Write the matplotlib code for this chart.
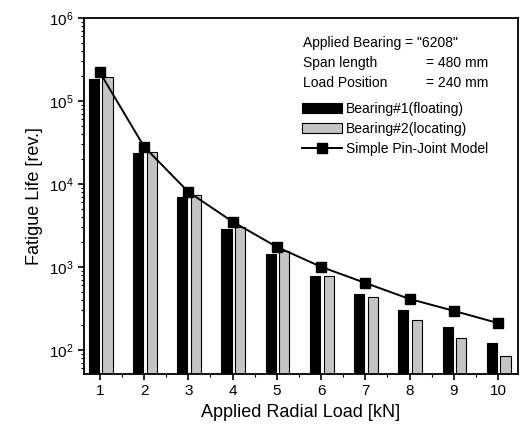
import matplotlib
matplotlib.use('Agg')
import numpy as np
from matplotlib import pyplot as plt
from matplotlib.ticker import LogLocator, MultipleLocator, NullFormatter

plt.rcParams['font.family'] = ['Liberation Sans', 'DejaVu Sans']

# data
loads = [1, 2, 3, 4, 5, 6, 7, 8, 9, 10]
bearing1_floating = [1.84e5, 2.36e4, 6.97e3, 2.87e3, 1.44e3, 780, 470, 300, 190, 121]
bearing2_locating = [1.95e5, 2.43e4, 7.4e3, 3.0e3, 1.55e3, 780, 435, 230, 140, 85]
pin_joint_model = [2.2e5, 2.8e4, 8.0e3, 3.5e3, 1.74e3, 1.0e3, 640, 410, 295, 210]

x = np.array(loads)
fig = plt.figure(figsize=(5.2, 4.37), dpi=100)
ax = fig.add_axes([0.1615, 0.144, 0.8345, 0.815])

bar_w = 0.23
b1 = ax.bar(x - 0.14, bearing1_floating, width=bar_w, color='black', edgecolor='black',
            linewidth=0.8, label='Bearing#1(floating)', zorder=2)
b2 = ax.bar(x + 0.17, bearing2_locating, width=bar_w, color='#c4c4c4', edgecolor='black',
            linewidth=0.8, label='Bearing#2(locating)', zorder=2)
ln, = ax.plot(x, pin_joint_model, color='black', linewidth=1.4, marker='s', markersize=7.5,
              label='Simple Pin-Joint Model', zorder=3)

ax.set_yscale('log')
ax.set_ylim(51, 1e6)
ax.set_xlim(0.64, 10.45)
ax.set_xticks(loads)
ax.xaxis.set_minor_locator(MultipleLocator(0.5))
ax.yaxis.set_major_locator(LogLocator(base=10, numticks=10))
ax.yaxis.set_minor_locator(LogLocator(base=10, subs=np.arange(2, 10), numticks=20))
ax.yaxis.set_minor_formatter(NullFormatter())
ax.tick_params(axis='both', which='major', direction='out', length=4, width=1.2, labelsize=11)
ax.tick_params(axis='both', which='minor', direction='out', length=2, width=0.8)
for s in ax.spines.values():
    s.set_linewidth(1.3)

ax.set_xlabel('Applied Radial Load [kN]', fontsize=13)
ax.set_ylabel('Fatigue Life [rev.]', fontsize=13)

# annotation block
ax.text(0.505, 0.930, 'Applied Bearing = "6208"', transform=ax.transAxes, fontsize=10, va='center')
ax.text(0.505, 0.874, 'Span length', transform=ax.transAxes, fontsize=10, va='center')
ax.text(0.788, 0.874, '= 480 mm', transform=ax.transAxes, fontsize=10, va='center')
ax.text(0.505, 0.817, 'Load Position', transform=ax.transAxes, fontsize=10, va='center')
ax.text(0.788, 0.817, '= 240 mm', transform=ax.transAxes, fontsize=10, va='center')

ax.legend(handles=[b1, b2, ln], loc='upper left', bbox_to_anchor=(0.502, 0.765),
          frameon=False, fontsize=10, handlelength=2.9, handletextpad=0.3,
          labelspacing=0.45, borderpad=0, borderaxespad=0)

fig.savefig('out.png', dpi=100)
